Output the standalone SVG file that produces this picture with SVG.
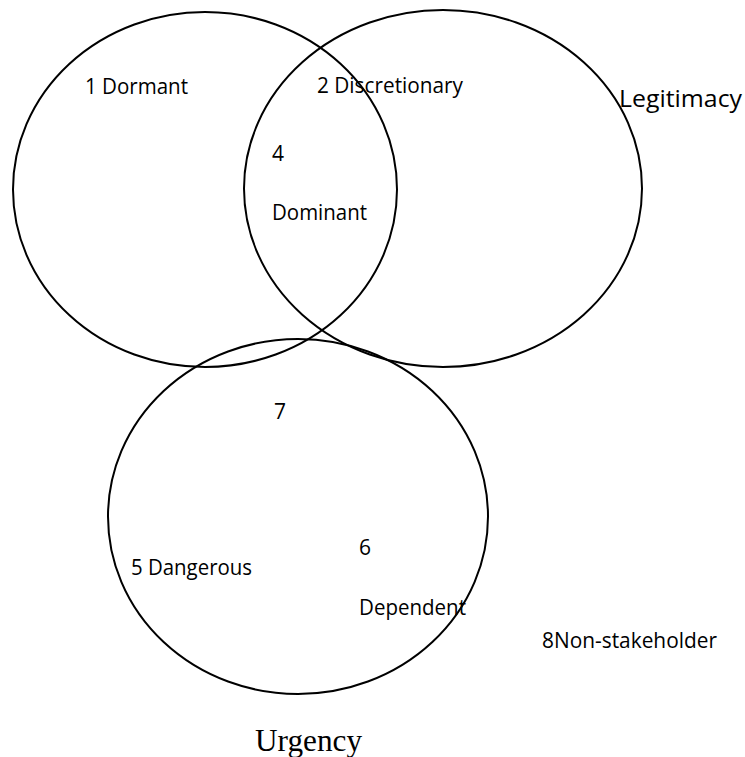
<svg xmlns="http://www.w3.org/2000/svg" width="745" height="757" viewBox="0 0 745 757">
<style>
.c{fill:none;stroke:#000;stroke-width:2}
.t{font-family:"Open Sans","Liberation Sans",sans-serif;font-size:21px;fill:#000}
.s{font-family:"Liberation Serif","Times New Roman",serif;font-size:31px;fill:#000}
</style>
<rect width="745" height="757" fill="#fff"/>
<g id="power">
<ellipse class="c" cx="205" cy="189.5" rx="192" ry="177.5"/>
</g>
<g id="legitimacy">
<ellipse class="c" cx="443" cy="188.5" rx="199" ry="178.5"/>
<text class="t" x="619" y="107" style="font-size:23px" textLength="123" lengthAdjust="spacingAndGlyphs">Legitimacy</text>
</g>
<g id="urgency">
<ellipse class="c" cx="298" cy="516.5" rx="190" ry="177.5"/>
<text class="s" x="255" y="751" textLength="107" lengthAdjust="spacingAndGlyphs">Urgency</text>
</g>
<g id="connectors"></g>
<g id="labels">
<text class="t" x="85" y="94" textLength="103" lengthAdjust="spacingAndGlyphs">1 Dormant</text>
<text class="t" x="317" y="93" textLength="146" lengthAdjust="spacingAndGlyphs">2 Discretionary</text>
<text class="t" x="272" y="161">4</text>
<text class="t" x="272" y="220" textLength="95" lengthAdjust="spacingAndGlyphs">Dominant</text>
<text class="t" x="274" y="419">7</text>
<text class="t" x="359" y="555">6</text>
<text class="t" x="131" y="575" textLength="121" lengthAdjust="spacingAndGlyphs">5 Dangerous</text>
<text class="t" x="359" y="615" textLength="107" lengthAdjust="spacingAndGlyphs">Dependent</text>
<text class="t" x="542" y="648" textLength="175" lengthAdjust="spacingAndGlyphs">8Non-stakeholder</text>
</g>
</svg>
